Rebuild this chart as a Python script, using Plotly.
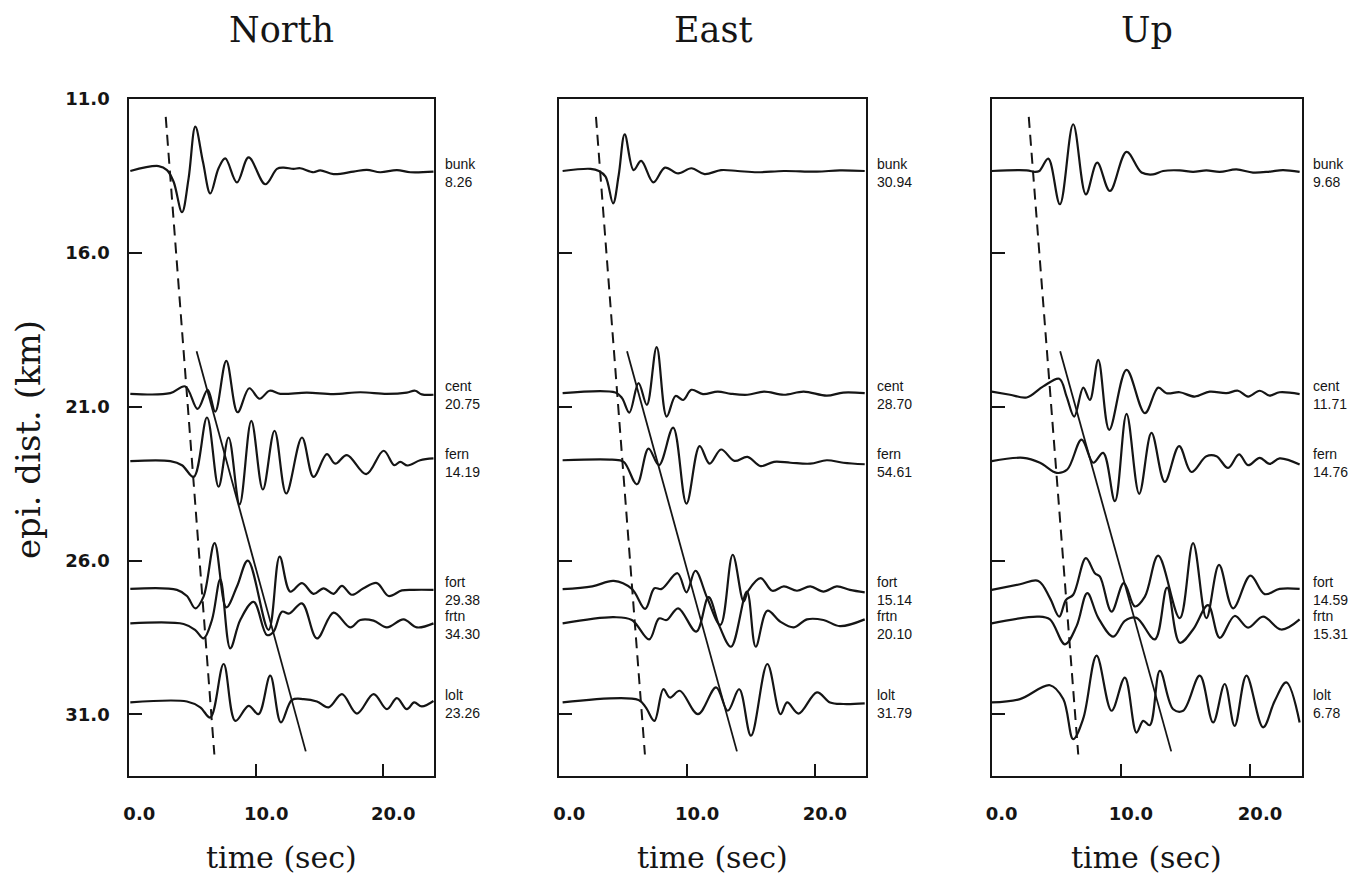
import plotly.graph_objects as go

# ---------------- data ----------------
COMPONENTS = ["North", "East", "Up"]
STATIONS = ["bunk", "cent", "fern", "fort", "frtn", "lolt"]
STATION_DIST = [13.34, 20.56, 22.77, 26.93, 28.04, 30.61]   # epicentral distance (km)
PEAK_N = ["8.26", "20.75", "14.19", "29.38", "34.30", "23.26"]
PEAK_E = ["30.94", "28.70", "54.61", "15.14", "20.10", "31.79"]
PEAK_U = ["9.68", "11.71", "14.76", "14.59", "15.31", "6.78"]
Y_TICKS = [11.0, 16.0, 21.0, 26.0, 31.0]
Y_TICK_TEXT = ["11.0", "16.0", "21.0", "26.0", "31.0"]
X_TICKS = [0.0, 10.0, 20.0]
X_TICK_TEXT = ["0.0", "10.0", "20.0"]
P_LINE_T = [2.87, 6.70]
P_LINE_D = [11.58, 32.30]
S_LINE_T = [5.30, 13.90]
S_LINE_D = [19.20, 32.20]

# North component traces (time s, amplitude in km-units, up positive)
n_bunk_t = [0.08, 2.31, 2.97, 3.49, 4.15, 4.67, 5.20, 5.80, 6.38, 7.03, 7.56, 8.48, 9.40, 10.71, 11.63, 12.15, 12.94, 13.46, 14.51, 15.04, 16.09, 17.66, 18.71, 19.76, 21.08, 22.13, 23.96]
n_bunk_a = [0, 0.16, 0.03, -0.35, -1.34, -0.24, 1.44, 0.30, -0.73, 0.09, 0.41, -0.37, 0.44, -0.43, 0.07, 0.11, 0.07, 0.09, -0.04, 0.02, -0.10, -0.02, 0.04, -0.04, 0.03, -0.04, -0.02]
n_cent_t = [0.08, 3.23, 4.41, 5.38, 6.17, 6.77, 7.64, 8.53, 9.45, 10.26, 11.05, 11.89, 13.99, 16.09, 18.19, 20.29, 21.86, 22.52, 23.04, 23.96]
n_cent_a = [-0.02, 0, 0.22, -0.51, 0.11, -0.60, 1.05, -0.62, 0.16, -0.18, 0.08, -0.02, 0.02, -0.03, 0.03, -0.02, 0.02, 0.08, -0.04, -0.05]
n_fern_t = [0.08, 3.23, 4.15, 5.07, 6.12, 7.03, 7.82, 8.69, 9.61, 10.52, 11.44, 12.36, 13.60, 14.51, 15.56, 16.22, 17.14, 18.66, 20.03, 20.87, 21.34, 21.92, 22.91, 23.96]
n_fern_a = [0, 0, -0.13, -0.51, 1.42, -0.83, 0.77, -1.40, 1.31, -0.92, 0.99, -1.05, 0.77, -0.51, 0.23, -0.08, 0.20, -0.42, 0.34, -0.13, -0.02, -0.14, 0.03, 0.09]
n_fort_t = [0.08, 3.75, 4.54, 5.20, 5.85, 6.72, 7.64, 8.48, 9.34, 10.97, 11.84, 12.68, 13.60, 14.51, 15.30, 16.09, 16.75, 17.53, 18.45, 19.50, 20.42, 21.47, 22.39, 23.96]
n_fort_a = [0.01, -0.02, -0.22, -0.62, -0.24, 1.50, -0.59, 0.09, 0.93, -1.32, 1.06, -0.08, 0.20, -0.15, 0.03, -0.15, 0.11, -0.18, 0.03, 0.20, -0.22, -0.04, -0.02, -0.02]
n_frtn_t = [0.08, 4.28, 5.20, 5.85, 6.51, 7.17, 7.95, 8.74, 9.79, 10.84, 11.36, 12.02, 12.60, 13.60, 14.78, 16.09, 17.40, 18.19, 19.24, 20.29, 21.60, 22.65, 23.96]
n_frtn_a = [0, -0.02, -0.22, -0.49, 0.11, 1.43, -0.81, 0.11, 0.70, -0.38, -0.27, 0.38, 0.32, 0.65, -0.49, 0.35, -0.13, 0.11, 0.09, -0.13, 0.13, -0.13, 0]
n_lolt_t = [0.08, 4.54, 5.59, 6.38, 7.43, 8.35, 9.40, 10.18, 11.10, 11.94, 12.81, 13.73, 14.78, 15.70, 16.75, 17.93, 19.24, 20.29, 21.08, 21.86, 22.44, 23.04, 23.96]
n_lolt_a = [0, 0.03, -0.16, -0.49, 1.25, -0.60, -0.11, -0.38, 0.87, -0.65, 0.08, 0.11, 0.03, -0.16, 0.27, -0.36, 0.27, -0.22, 0.14, -0.22, 0, -0.13, 0.05]

# East component traces
e_bunk_t = [0.26, 2.45, 3.10, 3.62, 4.21, 4.65, 5.12, 5.81, 6.41, 7.36, 8.27, 9.30, 10.34, 11.37, 12.66, 13.95, 15.50, 17.57, 20.16, 21.96, 23.90]
e_bunk_a = [0, 0.07, 0, -0.18, -1.05, -0.13, 1.19, 0.03, 0.33, -0.37, 0.11, -0.08, 0.09, -0.10, 0.03, 0, -0.04, 0, -0.02, 0.02, 0]
e_cent_t = [0.26, 4.39, 4.91, 5.48, 6.20, 6.85, 7.62, 8.40, 9.10, 9.69, 10.34, 11.24, 12.40, 13.44, 14.73, 16.02, 17.57, 19.12, 20.93, 22.22, 23.90]
e_cent_a = [0, 0.02, -0.16, -0.63, 0.33, -0.38, 1.50, -0.76, -0.09, -0.22, 0.11, -0.03, 0.05, -0.02, -0.05, 0.05, -0.05, 0.05, -0.08, 0.02, 0]
e_fern_t = [0.26, 4.13, 5.04, 6.07, 6.98, 7.80, 8.91, 9.95, 10.98, 11.76, 12.66, 13.70, 14.73, 15.76, 16.80, 18.09, 19.64, 20.93, 22.22, 23.90]
e_fern_a = [0.03, 0.05, -0.02, -0.75, 0.41, -0.13, 1.09, -1.38, 0.49, -0.08, 0.38, 0.01, 0.14, -0.16, -0.02, -0.05, -0.08, 0.03, -0.05, -0.10]
e_fort_t = [0.26, 2.58, 4.26, 5.68, 6.72, 7.44, 8.01, 9.25, 9.95, 10.65, 11.58, 12.61, 13.57, 14.42, 14.78, 15.76, 16.67, 17.57, 18.60, 19.64, 20.67, 21.71, 22.74, 23.90]
e_fort_a = [0, 0.09, 0.27, 0.01, -0.64, 0.03, 0.01, 0.52, -0.10, 0.60, -0.29, -1.16, 1.12, -0.40, -0.05, 0.36, -0.05, 0.09, -0.05, 0.09, -0.08, 0.09, -0.02, -0.10]
e_frtn_t = [0.26, 4.26, 5.68, 7.03, 7.80, 8.40, 9.30, 10.72, 11.68, 12.53, 13.44, 14.68, 15.37, 16.28, 17.31, 18.35, 19.38, 20.67, 21.96, 23.90]
e_frtn_a = [0, 0.20, 0.11, -0.52, 0.16, 0.11, 0.49, -0.27, 0.85, -0.09, -0.76, 1.03, -0.76, 0.41, 0.05, -0.13, 0.13, 0.11, -0.09, 0.13]
e_lolt_t = [0.26, 6.20, 6.77, 7.44, 8.14, 8.66, 9.43, 10.85, 12.27, 13.18, 14.08, 15.00, 16.28, 17.31, 17.83, 18.73, 20.16, 21.19, 22.22, 23.90]
e_lolt_a = [0, 0.08, -0.16, -0.60, 0.43, 0.16, 0.38, -0.38, 0.49, -0.27, 0.43, -1.08, 1.25, -0.38, 0, -0.36, 0.33, 0, -0.05, -0.03]

# Up component traces
u_bunk_t = [0, 2.71, 3.35, 3.69, 4.38, 5.28, 6.31, 7.29, 8.17, 9.15, 10.44, 11.60, 12.50, 13.27, 14.56, 15.59, 16.62, 17.65, 18.94, 20.23, 21.52, 22.55, 23.84]
u_bunk_a = [0, 0.02, -0.03, 0, 0.40, -1.08, 1.52, -0.76, 0.27, -0.65, 0.62, -0.05, -0.11, 0, 0.02, -0.03, 0.02, -0.03, 0.05, -0.05, -0.02, 0.03, -0.03]
u_cent_t = [0, 1.42, 2.71, 3.99, 5.23, 5.80, 6.39, 7.09, 7.60, 8.25, 9.10, 10.44, 11.86, 12.89, 13.53, 14.56, 15.72, 16.88, 18.17, 19.07, 19.85, 20.75, 21.52, 22.29, 23.84]
u_cent_a = [0.05, -0.05, -0.14, 0.22, 0.47, -0.11, -0.76, 0.18, -0.22, 1.08, -1.19, 0.76, -0.65, 0.18, 0, 0.03, -0.11, 0.05, 0, 0.08, -0.11, 0.08, -0.08, 0.03, -0.03]
u_fern_t = [0, 2.45, 3.74, 5.03, 5.85, 6.96, 7.86, 8.63, 9.54, 10.44, 11.42, 12.37, 13.40, 14.51, 15.46, 16.62, 17.40, 18.30, 19.15, 19.85, 20.75, 21.52, 22.29, 23.84]
u_fern_a = [0, 0.11, -0.05, -0.38, -0.27, 0.70, -0.05, 0.27, -1.30, 1.54, -1.06, 0.92, -0.67, 0.49, -0.35, 0.16, 0.16, -0.22, 0.22, -0.13, 0.11, -0.09, 0.09, -0.11]
u_fort_t = [0, 2.19, 3.61, 4.51, 5.23, 5.75, 6.31, 7.29, 7.99, 8.38, 9.28, 10.23, 11.08, 11.86, 12.89, 14.56, 15.59, 16.62, 17.60, 18.69, 20.03, 21.13, 22.29, 23.84]
u_fort_a = [-0.02, 0.16, 0.27, -0.29, -0.89, -0.35, -0.18, 1.01, 0.52, 0.41, -0.73, 0.20, -0.56, -0.24, 1.09, -0.94, 1.50, -0.94, 0.79, -0.62, 0.44, -0.16, 0.01, 0.01]
u_frtn_t = [0, 3.61, 4.51, 5.67, 6.57, 7.40, 8.25, 9.41, 10.31, 11.21, 12.63, 13.58, 14.56, 15.59, 16.75, 17.65, 18.81, 19.85, 21.01, 22.42, 23.84]
u_frtn_a = [0, 0.22, 0.13, -0.68, -0.09, 0.98, 0.18, -0.43, 0.08, 0.18, -0.52, 1.16, -0.63, -0.20, 0.59, -0.47, 0.24, -0.14, 0.22, -0.20, 0.13]
u_lolt_t = [0, 2.19, 4.51, 5.54, 6.31, 7.09, 8.12, 9.28, 10.31, 11.21, 11.73, 12.24, 13.02, 14.05, 14.82, 16.11, 17.14, 18.04, 18.81, 19.72, 21.01, 21.91, 22.81, 23.84]
u_lolt_a = [0, 0.11, 0.56, 0.11, -1.19, -0.52, 1.52, -0.27, 0.81, -0.98, -0.60, -0.74, 1.03, -0.22, -0.27, 0.87, -0.65, 0.60, -0.76, 0.87, -0.81, 0.05, 0.65, -0.65]

WAVES = {
    "North": [(n_bunk_t, n_bunk_a), (n_cent_t, n_cent_a), (n_fern_t, n_fern_a),
              (n_fort_t, n_fort_a), (n_frtn_t, n_frtn_a), (n_lolt_t, n_lolt_a)],
    "East": [(e_bunk_t, e_bunk_a), (e_cent_t, e_cent_a), (e_fern_t, e_fern_a),
             (e_fort_t, e_fort_a), (e_frtn_t, e_frtn_a), (e_lolt_t, e_lolt_a)],
    "Up": [(u_bunk_t, u_bunk_a), (u_cent_t, u_cent_a), (u_fern_t, u_fern_a),
           (u_fort_t, u_fort_a), (u_frtn_t, u_frtn_a), (u_lolt_t, u_lolt_a)],
}
PEAKS = {"North": PEAK_N, "East": PEAK_E, "Up": PEAK_U}

# ---------------- figure ----------------
W, H = 1361, 877
X_DOMAINS = [[129.3 / W, 434.0 / W], [559.3 / W, 866.0 / W], [991.7 / W, 1301.7 / W]]
Y_DOMAIN = [1 - 776.0 / H, 1 - 99.0 / H]
INK = "#151515"
SERIF = "DejaVu Serif"

fig = go.Figure()
annotations = []
layout_axes = {}

for i, comp in enumerate(COMPONENTS):
    sfx = "" if i == 0 else str(i + 1)
    xref, yref = "x" + sfx, "y" + sfx
    for j, st in enumerate(STATIONS):
        t, a = WAVES[comp][j]
        base = STATION_DIST[j]
        fig.add_trace(go.Scatter(
            x=t, y=[base - v for v in a], mode="lines",
            line=dict(color=INK, width=2.2, shape="spline", smoothing=1.0),
            xaxis=xref, yaxis=yref, showlegend=False, hoverinfo="skip"))
        annotations.append(dict(
            x=1, xref=xref + " domain", y=base, yref=yref,
            xanchor="left", yanchor="middle", xshift=9, yshift=-2,
            text=f"{st}<br>{PEAKS[comp][j]}", showarrow=False, align="left",
            font=dict(family="Liberation Sans", size=14, color=INK)))
    fig.add_trace(go.Scatter(
        x=P_LINE_T, y=P_LINE_D, mode="lines",
        line=dict(color=INK, width=2, dash="11px,7px"),
        xaxis=xref, yaxis=yref, showlegend=False, hoverinfo="skip"))
    fig.add_trace(go.Scatter(
        x=S_LINE_T, y=S_LINE_D, mode="lines",
        line=dict(color=INK, width=1.8),
        xaxis=xref, yaxis=yref, showlegend=False, hoverinfo="skip"))

    layout_axes["xaxis" + sfx] = dict(
        domain=X_DOMAINS[i], range=[0, 24], anchor=yref,
        tickmode="array", tickvals=X_TICKS, ticktext=X_TICK_TEXT,
        ticks="inside", ticklen=12, tickwidth=2, tickcolor=INK,
        showline=True, mirror=True, linewidth=2, linecolor=INK,
        showgrid=False, zeroline=False,
        ticklabelshift=10, ticklabelstandoff=20,
        tickfont=dict(family="DejaVu Sans", size=18, color=INK, weight="bold"))
    layout_axes["yaxis" + sfx] = dict(
        domain=Y_DOMAIN, range=[33.0, 11.0], anchor=xref,
        tickmode="array", tickvals=Y_TICKS, ticktext=Y_TICK_TEXT,
        showticklabels=(i == 0),
        ticks="inside", ticklen=13, tickwidth=2, tickcolor=INK,
        showline=True, mirror=True, linewidth=2, linecolor=INK,
        showgrid=False, zeroline=False, ticklabelstandoff=14,
        tickfont=dict(family="DejaVu Sans", size=18, color=INK, weight="bold"))

    annotations.append(dict(
        x=0.5, xref=xref + " domain", y=1 - 30.0 / H, yref="paper",
        text=comp, showarrow=False, xanchor="center", yanchor="middle",
        font=dict(family=SERIF, size=35, color=INK)))
    annotations.append(dict(
        x=0.5, xref=xref + " domain", y=1 - 857.0 / H, yref="paper",
        text="time (sec)", showarrow=False, xanchor="center", yanchor="middle",
        font=dict(family=SERIF, size=30, color=INK)))

annotations.append(dict(
    x=28.0 / W, xref="paper", y=1 - 440.0 / H, yref="paper", textangle=-90,
    text="epi. dist. (km)", showarrow=False, xanchor="center", yanchor="middle",
    font=dict(family=SERIF, size=34, color=INK)))

fig.update_layout(
    width=W, height=H,
    margin=dict(l=0, r=0, t=0, b=0, autoexpand=False),
    paper_bgcolor="white", plot_bgcolor="white",
    showlegend=False, annotations=annotations, **layout_axes)

fig.write_html(
    "out.html",
    config={"displayModeBar": False},
    post_script="document.body.style.margin='0';document.body.style.overflow='hidden';")
